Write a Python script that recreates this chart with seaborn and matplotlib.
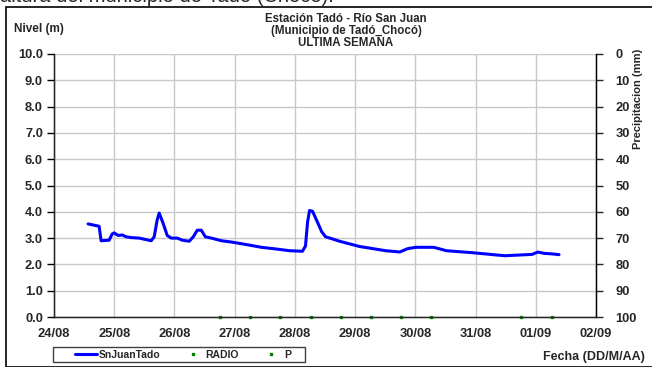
import matplotlib
matplotlib.use("Agg")
import matplotlib.pyplot as plt
import matplotlib.dates as mdates
import seaborn as sns
import pandas as pd
import numpy as np

# datos: dias desde 24/08 00:00 y nivel (m)
dias = [0.566, 0.749, 0.782, 0.915, 0.965, 0.998, 1.065, 1.131, 1.198, 1.281,
        1.414, 1.614, 1.664, 1.714, 1.747, 1.814, 1.880, 1.947, 2.047, 2.130,
        2.246, 2.313, 2.379, 2.446, 2.513, 2.612, 2.779, 2.945, 3.078, 3.278,
        3.444, 3.710, 3.910, 4.126, 4.176, 4.210, 4.243, 4.293, 4.376, 4.443,
        4.509, 4.609, 4.742, 4.842, 4.975, 5.075, 5.241, 5.507, 5.707, 5.740,
        5.874, 6.007, 6.306, 6.517, 6.921, 7.387, 7.487, 7.937, 8.037, 8.136,
        8.270, 8.386]
nivel = [3.54, 3.45, 2.90, 2.92, 3.15, 3.20, 3.10, 3.12, 3.05, 3.02,
         3.00, 2.90, 3.05, 3.70, 3.95, 3.55, 3.10, 3.00, 3.00, 2.92,
         2.88, 3.05, 3.30, 3.30, 3.05, 3.00, 2.90, 2.85, 2.80, 2.72,
         2.65, 2.58, 2.52, 2.50, 2.70, 3.60, 4.05, 4.02, 3.60, 3.25,
         3.05, 2.98, 2.88, 2.82, 2.74, 2.68, 2.62, 2.52, 2.48, 2.47,
         2.60, 2.65, 2.65, 2.52, 2.45, 2.35, 2.33, 2.38, 2.47, 2.42,
         2.40, 2.37]
dias_radio = []
nivel_radio = []
dias_p = [2.75, 3.26, 3.76, 4.26, 4.76, 5.26, 5.76, 6.26, 7.75, 8.27]
nivel_p = [0, 0, 0, 0, 0, 0, 0, 0, 0, 0]

inicio = pd.Timestamp("2024-08-24")
df = pd.DataFrame({"fecha": inicio + pd.to_timedelta(dias, unit="D"), "nivel": nivel})
df_p = pd.DataFrame({"fecha": inicio + pd.to_timedelta(dias_p, unit="D"), "nivel": nivel_p})
df_r = pd.DataFrame({"fecha": inicio + pd.to_timedelta(dias_radio, unit="D"),
                     "nivel": pd.Series(nivel_radio, dtype=float)})

sns.set_style("white")
plt.rcParams['font.family'] = ['Liberation Sans', 'DejaVu Sans']
plt.rcParams['font.weight'] = 'bold'

fig = plt.figure(figsize=(6.52, 3.67), dpi=100)
ax = fig.add_axes([54/652, 1-317/367, 542/652, 263/367])

sns.lineplot(data=df, x="fecha", y="nivel", ax=ax, color="#0000ff", lw=2.2,
             label="SnJuanTado", legend=False)
ax.plot(df_r["fecha"], df_r["nivel"], "s", ms=2, color="#008000", label="RADIO", clip_on=False)
ax.plot(df_p["fecha"], df_p["nivel"], "s", ms=2, color="#008000", label="P", clip_on=False, zorder=5)

ax.set_xlim(inicio, inicio + pd.Timedelta(days=9))
ax.set_ylim(0, 10)
ax.set_yticks(np.arange(0, 10.1, 1))
ax.yaxis.set_major_formatter(matplotlib.ticker.FormatStrFormatter("%.1f"))
ax.xaxis.set_major_locator(mdates.DayLocator())
ax.xaxis.set_major_formatter(mdates.DateFormatter("%d/%m"))
ax.grid(True, color="#c8c8c8", lw=1)
ax.set_xlabel("")
ax.set_ylabel("")
for s in ["left", "bottom", "right"]:
    ax.spines[s].set_color("black")
    ax.spines[s].set_linewidth(1)
ax.spines["top"].set_visible(False)
ax.tick_params(axis="both", direction="out", length=5, width=1, labelsize=9.3, color="black", pad=3)
for t in ax.get_xticklabels() + ax.get_yticklabels():
    t.set_fontweight("bold")

ax2 = ax.twinx()
ax2.set_ylim(100, 0)
ax2.set_yticks(np.arange(0, 101, 10))
ax2.tick_params(axis="y", direction="out", length=5, width=1, labelsize=9.3, pad=9)
for t in ax2.get_yticklabels():
    t.set_fontweight("bold")
ax2.spines["top"].set_visible(False)
ax2.spines["right"].set_color("black")

fig.text(346/652, 1-31/367, "Estación Tadó - Río San Juan\n(Municipio de Tadó_Chocó)\nULTIMA SEMANA",
         ha="center", va="center", fontsize=8.3, fontweight="bold", linespacing=0.95)
fig.text(14/652, 1-29/367, "Nivel (m)", ha="left", va="center", fontsize=8.5, fontweight="bold")
fig.text(638/652, 1-99/367, "Precipitacion (mm)", rotation=90, ha="center", va="center",
         fontsize=8, fontweight="bold")
fig.text(645/652, 1-357/367, "Fecha (DD/M/AA)", ha="right", va="center", fontsize=9, fontweight="bold")
fig.text(0.0, 1-2.5/367, "altura del municipio de Tadó (Chocó).", ha="left", va="baseline",
         fontsize=14.5, fontweight="normal")

# marco exterior
fig.add_artist(plt.Rectangle((6/652, 0), 1, 1-7/367, transform=fig.transFigure,
                             fill=False, ec="black", lw=1.2))

# leyenda con su marco aparte
h1, l1 = ax.get_legend_handles_labels()
leg = fig.legend(h1, l1, loc="center", bbox_to_anchor=(183/652, 1-354.5/367), ncol=3,
                 fontsize=7.5, frameon=False, handlelength=2.1, columnspacing=2.0,
                 borderpad=0, handletextpad=0.2, borderaxespad=0, markerscale=1.0)
for t in leg.get_texts():
    t.set_fontweight("bold")
fig.add_artist(plt.Rectangle((53/652, 1-362/367), 252/652, 15/367, transform=fig.transFigure,
                             fill=False, ec="#404040", lw=1))

fig.savefig("out.png", dpi=100)
